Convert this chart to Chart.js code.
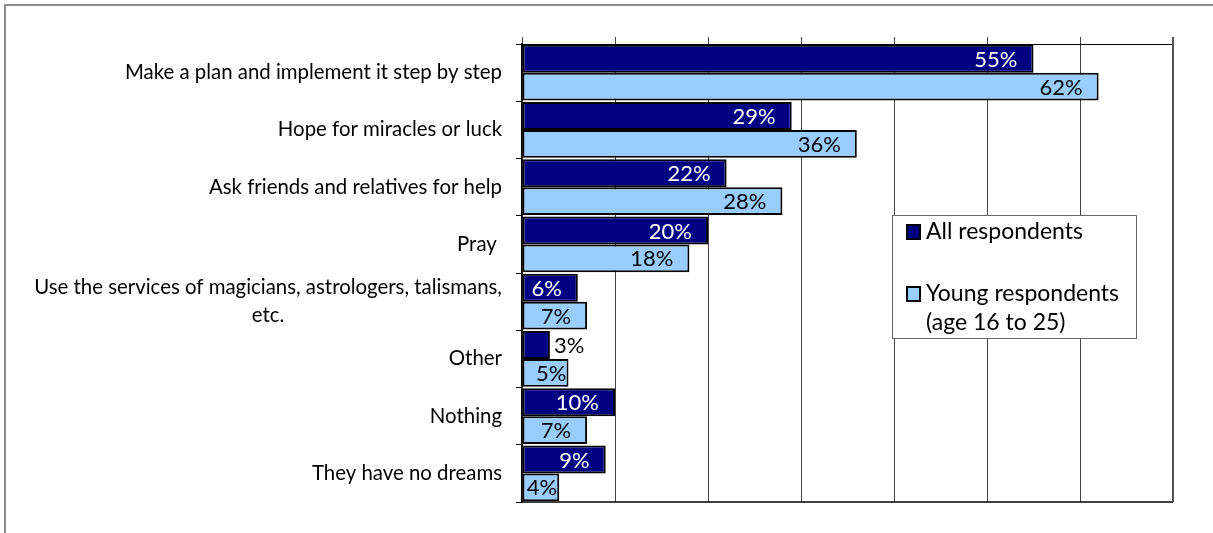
<!DOCTYPE html>
<html>

<head>
  <title>What people do to make their dreams come true</title>
  <script src="https://cdn.jsdelivr.net/npm/chart.js"></script>
  <style>
    body { margin: 0; background: #fff; }
  </style>
</head>

<body>
  <canvas id="dreamChart" width="1213" height="533"></canvas>
  <script>
    // data
    var categories = [
      'Make a plan and implement it step by step',
      'Hope for miracles or luck',
      'Ask friends and relatives for help',
      'Pray ',
      ['Use the services of magicians, astrologers, talismans,', 'etc.'],
      'Other',
      'Nothing',
      'They have no dreams'
    ];
    var allRespondents = [55, 29, 22, 20, 6, 3, 10, 9];
    var youngRespondents = [62, 36, 28, 18, 7, 5, 7, 4];
    var seriesNames = [['All respondents'], ['Young respondents', '(age 16 to 25)']];
    var xMin = 0, xMax = 70, xStep = 10;

    var FONT = 'Lato, "Open Sans", sans-serif';
    var darkBlue = '#000080';
    var lightBlue = '#99CCFF';

    // frame, bottom line, right edge
    var framePlugin = {
      id: 'frame',
      beforeDraw: function (chart) {
        var c = chart.ctx;
        c.save();
        c.strokeStyle = '#8c8c8c';
        c.lineWidth = 2;
        c.beginPath();
        c.moveTo(5, 533);
        c.lineTo(5, 5);
        c.lineTo(1213, 5);
        c.stroke();
        c.restore();
      },
      afterDraw: function (chart) {
        var a = chart.chartArea, c = chart.ctx;
        c.save();
        c.strokeStyle = '#000';
        c.lineWidth = 1.5;
        c.beginPath();
        c.moveTo(a.left, a.bottom);
        c.lineTo(a.right, a.bottom);
        c.stroke();
        c.strokeStyle = '#555';
        c.lineWidth = 2;
        c.beginPath();
        c.moveTo(a.right, a.top - 7);
        c.lineTo(a.right, a.bottom);
        c.stroke();
        c.restore();
      }
    };

    // category labels, lines centred on each other like the original
    var catLabels = {
      id: 'catLabels',
      afterDraw: function (chart) {
        var c = chart.ctx, y = chart.scales.y;
        var right = chart.chartArea.left - 20;
        c.save();
        c.font = '20.4px ' + FONT;
        c.fillStyle = '#000';
        c.textBaseline = 'middle';
        c.textAlign = 'center';
        categories.forEach(function (lab, i) {
          var lines = Array.isArray(lab) ? lab : [lab];
          var w = Math.max.apply(null, lines.map(function (l) { return c.measureText(l).width; }));
          var cx = right - w / 2;
          var lh = 28;
          var y0 = y.getPixelForValue(i) - (lines.length - 1) * lh / 2;
          lines.forEach(function (l, k) {
            c.fillText(l, cx, y0 + k * lh);
          });
        });
        c.restore();
      }
    };

    // value labels at the inside end of each bar
    var valueLabels = {
      id: 'valueLabels',
      afterDatasetsDraw: function (chart) {
        var c = chart.ctx;
        c.save();
        c.font = '22px ' + FONT;
        c.textBaseline = 'middle';
        c.textAlign = 'left';
        chart.data.datasets.forEach(function (ds, di) {
          chart.getDatasetMeta(di).data.forEach(function (bar, i) {
            var txt = ds.data[i] + '%';
            var w = c.measureText(txt).width;
            var barW = bar.x - bar.base;
            var x;
            if (barW < w + 4) {
              x = bar.x + 4;
              c.fillStyle = '#000';
            } else {
              x = bar.x - 16 - w;
              if (x < bar.base + 2) x = bar.x - 2 - w;
              c.fillStyle = di === 0 ? '#fff' : '#000';
            }
            c.fillText(txt, x, bar.y + 1);
          });
        });
        c.restore();
      }
    };

    // legend box inside plot
    var legendBox = {
      id: 'legendBox',
      afterDraw: function (chart) {
        var c = chart.ctx;
        var bx = 892, by = 215, bw = 244, bh = 123;
        c.save();
        c.fillStyle = '#fff';
        c.fillRect(bx, by, bw, bh);
        c.strokeStyle = '#666';
        c.lineWidth = 1;
        c.strokeRect(bx + 0.5, by + 0.5, bw, bh);
        c.font = '23px ' + FONT;
        c.textBaseline = 'middle';
        c.textAlign = 'left';
        var rows = [232, 294];
        chart.data.datasets.forEach(function (ds, di) {
          var ry = rows[di];
          c.fillStyle = ds.backgroundColor;
          c.fillRect(907, ry - 7, 13, 14);
          c.strokeStyle = '#000';
          c.lineWidth = 2;
          c.strokeRect(907, ry - 7, 13, 14);
          c.fillStyle = '#000';
          seriesNames[di].forEach(function (l, k) {
            c.fillText(l, 926, ry + k * 29);
          });
        });
        c.restore();
      }
    };

    var ctx = document.getElementById('dreamChart').getContext('2d');
    var chart = new Chart(ctx, {
      type: 'bar',
      data: {
        labels: categories,
        datasets: [{
          label: seriesNames[0].join(' '),
          data: allRespondents,
          backgroundColor: darkBlue,
          borderColor: '#000',
          borderWidth: 2,
          borderSkipped: false
        }, {
          label: seriesNames[1].join(' '),
          data: youngRespondents,
          backgroundColor: lightBlue,
          borderColor: '#000',
          borderWidth: 2,
          borderSkipped: false
        }]
      },
      options: {
        indexAxis: 'y',
        responsive: false,
        animation: false,
        devicePixelRatio: 1,
        layout: { padding: { left: 0, top: 37, right: 40, bottom: 31 } },
        datasets: { bar: { categoryPercentage: 0.97, barPercentage: 1 } },
        plugins: {
          legend: { display: false },
          tooltip: { enabled: false }
        },
        scales: {
          x: {
            position: 'top',
            min: xMin,
            max: xMax,
            ticks: { display: false, stepSize: xStep },
            grid: { color: '#444', lineWidth: 1, tickLength: 7, tickColor: '#444' },
            border: { display: true, color: '#000', width: 1 },
            afterFit: function (s) { s.height = 7; }
          },
          y: {
            ticks: { display: false },
            grid: { offset: true, drawOnChartArea: false, tickLength: 6, tickColor: '#000' },
            border: { display: true, color: '#000', width: 1.5 },
            afterFit: function (s) { s.width = 522; }
          }
        }
      },
      plugins: [framePlugin, valueLabels, catLabels, legendBox]
    });
  </script>
</body>

</html>
